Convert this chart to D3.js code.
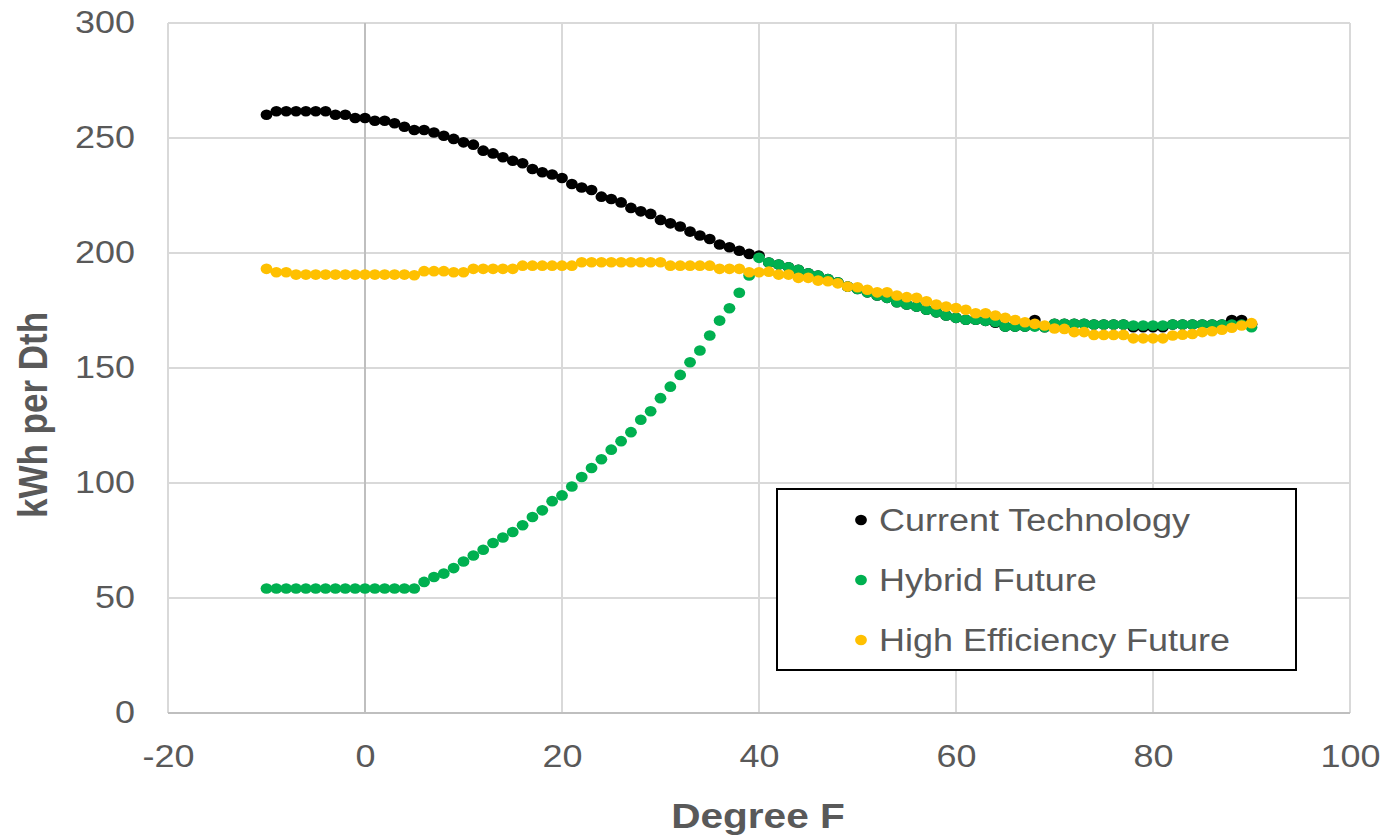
<!DOCTYPE html>
<html>
<head>
<meta charset="utf-8">
<script src="https://cdn.jsdelivr.net/npm/d3@7"></script>
<style>
html,body{margin:0;padding:0;background:#fff;}
svg{display:block;font-family:"Liberation Sans",Arial,sans-serif;}
</style>
</head>
<body>
<svg id="chart" width="1386" height="837"></svg>
<script>
// ---- data ----
const temps = d3.range(-10, 91); // Degree F, -10 .. 90

const currentTech = [
  260.1,261.6,261.6,261.6,261.6,261.6,261.6,260.1,260.1,258.7, // -10..-1
  258.7,257.5,257.5,256.4,254.9,253.5,253.5,252.4,251.0,249.6, // 0..9
  248.1,247.1,244.5,243.3,241.6,240.1,239.0,236.5,235.1,234.1, // 10..19
  232.6,230.0,228.5,227.4,224.5,223.5,222.0,219.6,218.1,217.0, // 20..29
  214.4,212.9,211.5,209.3,207.6,206.1,203.7,202.5,201.0,199.6, // 30..39
  198.9,195.9,195.0,193.8,192.7,191.2,190.2,188.7,187.3,185.4, // 40..49
  184.4,182.9,181.5,180.5,178.6,177.6,176.7,175.3,174.2,172.8, // 50..59
  171.8,171.0,171.0,170.5,169.7,168.0,168.0,168.0,170.9,167.7, // 60..69
  169.2,169.2,169.2,169.2,168.9,168.9,168.9,168.9,167.7,167.7, // 70..79
  167.7,167.7,168.9,168.9,168.9,168.9,168.9,168.9,170.9,170.9, // 80..89
  169.0                                                        // 90
];

const hybridFuture = [
  54.1,54.1,54.1,54.1,54.1,54.1,54.1,54.1,54.1,54.1,           // -10..-1
  54.1,54.1,54.1,54.1,54.1,54.1,57.0,59.1,60.6,63.0,           // 0..9
  65.9,68.5,71.0,73.9,76.3,78.7,81.6,85.2,88.1,92.1,           // 10..19
  94.6,98.5,102.6,106.5,110.3,114.5,118.2,122.1,127.5,131.2,   // 20..29
  136.9,141.9,147.0,152.5,157.6,164.1,170.6,176.0,182.7,190.2, // 30..39
  197.9,195.9,195.0,193.8,192.7,191.2,190.2,188.7,187.3,185.4, // 40..49
  184.4,182.9,181.5,180.5,178.6,177.6,176.7,175.3,174.2,172.8, // 50..59
  171.8,171.0,171.0,170.5,170.0,168.0,168.0,168.0,168.0,167.7, // 60..69
  169.2,169.2,169.2,169.2,168.9,168.9,168.9,168.9,168.5,168.5, // 70..79
  168.5,168.5,168.9,168.9,168.9,168.9,168.9,168.9,168.9,168.9, // 80..89
  167.7                                                        // 90
];

const highEfficiencyFuture = [
  193.1,191.6,191.6,190.6,190.6,190.6,190.6,190.6,190.6,190.6, // -10..-1
  190.6,190.6,190.6,190.6,190.6,190.3,192.1,192.1,192.1,191.6, // 0..9
  191.6,193.1,193.1,193.1,193.1,193.1,194.5,194.5,194.5,194.5, // 10..19
  194.5,194.5,196.0,196.0,196.0,196.0,196.0,196.0,196.0,196.0, // 20..29
  196.0,194.5,194.5,194.5,194.5,194.5,193.1,193.1,193.1,191.6, // 30..39
  191.6,191.9,190.6,190.6,189.2,189.2,188.0,187.7,186.8,185.4, // 40..49
  185.1,184.0,182.9,182.9,181.5,180.8,180.5,179.0,177.6,176.7, // 50..59
  176.1,175.3,173.8,173.8,172.8,171.8,170.9,169.9,169.2,168.5, // 60..69
  167.2,167.0,165.6,165.6,164.4,164.4,164.4,164.4,162.9,162.9, // 70..79
  162.9,162.9,164.1,164.5,164.8,165.6,166.0,166.6,167.5,168.5, // 80..89
  169.5                                                        // 90
];

const seriesNames = ["Current Technology", "Hybrid Future", "High Efficiency Future"];
const seriesColors = ["#000000", "#00b050", "#ffc000"];
const xTicks = [-20, 0, 20, 40, 60, 80, 100];
const yTicks = [0, 50, 100, 150, 200, 250, 300];
const xTitle = "Degree F";
const yTitle = "kWh per Dth";

// ---- drawing ----
(function draw() {
  const svg = d3.select("#chart");
  const pl = 168, pr = 1350, pt = 23, pb = 713;
  const sx = 1.16; // horizontal stretch of text seen in the reference
  const x = d3.scaleLinear().domain([-20, 100]).range([pl, pr]);
  const y = d3.scaleLinear().domain([0, 300]).range([pb, pt]);
  const textColor = "#595959";
  const font = '"Liberation Sans", Arial, sans-serif';

  // horizontal gridlines
  svg.append("g").selectAll("line").data(yTicks.filter(d => d !== 0)).join("line")
    .attr("x1", pl).attr("x2", pr)
    .attr("y1", d => y(d)).attr("y2", d => y(d))
    .attr("stroke", "#d9d9d9").attr("stroke-width", 2);

  // vertical gridlines
  svg.append("g").selectAll("line").data(xTicks.filter(d => d !== 0)).join("line")
    .attr("x1", d => x(d)).attr("x2", d => x(d))
    .attr("y1", pt).attr("y2", pb)
    .attr("stroke", "#d9d9d9").attr("stroke-width", 2);

  // axis lines (vertical axis crosses at x = 0)
  svg.append("line").attr("x1", x(0)).attr("x2", x(0)).attr("y1", pt).attr("y2", pb)
    .attr("stroke", "#bfbfbf").attr("stroke-width", 2);
  svg.append("line").attr("x1", pl).attr("x2", pr).attr("y1", y(0)).attr("y2", y(0))
    .attr("stroke", "#bfbfbf").attr("stroke-width", 2);

  // y tick labels
  const yAxis = d3.axisLeft(y).tickValues(yTicks).tickSize(0).tickPadding(0).tickFormat(d => String(d));
  const gy = svg.append("g").attr("transform", "translate(135,0)").call(yAxis);
  gy.select(".domain").remove();
  gy.selectAll(".tick text").attr("font-size", 31).attr("fill", textColor).attr("font-family", font)
    .attr("transform", `scale(${sx},1)`);

  // x tick labels
  const xAxis = d3.axisBottom(x).tickValues(xTicks).tickSize(0).tickPadding(0).tickFormat(d => String(d));
  const gx = svg.append("g").attr("transform", `translate(0,${pb + 32})`).call(xAxis);
  gx.select(".domain").remove();
  gx.selectAll(".tick text").attr("font-size", 31).attr("fill", textColor).attr("font-family", font)
    .attr("transform", `scale(${sx},1)`);

  // axis titles
  svg.append("text").attr("transform", `translate(758,828) scale(${sx},1)`).attr("text-anchor", "middle")
    .attr("font-size", 35).attr("font-weight", "bold").attr("fill", textColor).text(xTitle);
  svg.append("text").attr("transform", `translate(47,415) scale(${sx},1) rotate(-90)`).attr("text-anchor", "middle")
    .attr("font-size", 35).attr("font-weight", "bold").attr("fill", textColor).text(yTitle);

  // series
  const allSeries = [currentTech, hybridFuture, highEfficiencyFuture];
  allSeries.forEach((vals, i) => {
    svg.append("g").selectAll("ellipse").data(temps.map((t, j) => [t, vals[j]])).join("ellipse")
      .attr("cx", d => x(d[0])).attr("cy", d => y(d[1])).attr("rx", 5.9).attr("ry", 5.3)
      .attr("fill", seriesColors[i]);
  });

  // legend
  const lg = svg.append("g");
  lg.append("rect").attr("x", 777).attr("y", 489).attr("width", 519).attr("height", 181)
    .attr("fill", "#fff").attr("stroke", "#000").attr("stroke-width", 2);
  seriesNames.forEach((name, i) => {
    const cy = 520 + i * 60;
    lg.append("ellipse").attr("cx", 861).attr("cy", cy).attr("rx", 5.9).attr("ry", 5.3).attr("fill", seriesColors[i]);
    lg.append("text").attr("transform", `translate(879,${cy + 11}) scale(${sx},1)`).attr("font-size", 31)
      .attr("fill", textColor).text(name);
  });
})();
</script>
</body>
</html>
